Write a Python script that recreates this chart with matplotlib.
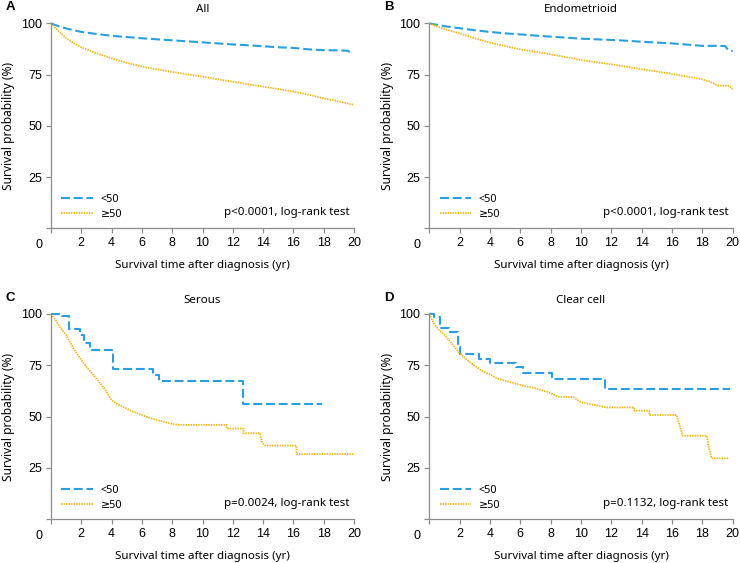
import matplotlib
matplotlib.use("Agg")
import matplotlib.pyplot as plt

plt.rcParams['font.family'] = ['Noto Sans', 'DejaVu Sans']

BLUE = "#2a9fe0"
ORANGE = "#f6b412"
GREY = "#8c8c8c"

# panel A: all
a_t_young = [0, 0.5, 1, 2, 3, 4, 5, 6, 7, 8, 9, 10, 11, 12, 13, 14, 15, 16, 17, 18, 19, 19.6, 19.8]
a_s_young = [100, 98.6, 97.5, 95.8, 94.8, 93.9, 93.3, 92.7, 92.2, 91.7, 91.2, 90.7, 90.2, 89.7, 89.3, 88.8, 88.3, 88.0, 87.3, 86.9, 86.8, 86.6, 85.5]
a_t_old = [0, 0.5, 1, 1.5, 2, 3, 4, 5, 6, 7, 8, 9, 10, 11, 12, 13, 14, 15, 16, 17, 18, 19, 20]
a_s_old = [100, 96.2, 92.7, 90.3, 88.3, 85.4, 82.9, 80.7, 78.9, 77.5, 76.3, 75.1, 74.0, 72.7, 71.5, 70.3, 69.1, 67.9, 66.7, 65.2, 63.4, 61.9, 60.2]

# panel B: endometrioid
b_t_young = [0, 1, 2, 3, 4, 5, 6, 7, 8, 9, 10, 11, 12, 13, 14, 15, 16, 17, 18, 19, 19.5, 19.7, 20]
b_s_young = [100, 98.6, 97.6, 96.6, 95.8, 95.1, 94.6, 94.0, 93.5, 93.0, 92.5, 92.2, 91.9, 91.5, 91.0, 90.6, 90.2, 89.6, 89.0, 89.0, 88.9, 87.0, 86.5]
b_t_old = [0, 1, 2, 3, 4, 5, 6, 7, 8, 9, 10, 11, 12, 13, 14, 15, 16, 17, 18, 18.5, 19, 19.8, 20]
b_s_old = [100, 97.2, 95.1, 92.7, 90.6, 88.9, 87.3, 86.1, 84.9, 83.5, 82.1, 81.0, 80.0, 78.8, 77.6, 76.5, 75.3, 74.0, 72.7, 71.5, 69.7, 69.4, 67.8]

# panel C: serous (blue is a step curve, orange has repeated times at the drops)
c_t_young = [0, 0.7, 1.2, 1.9, 2.2, 2.6, 4.0, 4.1, 6.7, 7.1, 12.7, 17.9]
c_s_young = [100, 99.0, 92.7, 89.8, 86.0, 82.3, 81.0, 73.4, 70.3, 67.5, 56.3, 56.3]
c_t_old = [0, 0.3, 0.6, 1, 1.5, 2, 2.5, 3, 3.5, 4, 4.5, 5, 5.5, 6, 6.5, 7, 7.5, 8, 8.5,
           11.6, 11.6, 12.7, 12.7, 13.8, 13.9, 14.1, 16.2, 16.2, 20]
c_s_old = [100, 97.0, 93.5, 89.8, 83.0, 77.6, 72.8, 68.5, 64.0, 58.0, 55.6, 53.9, 52.2, 50.8, 49.4, 48.4, 47.4, 46.4, 46.0,
           46.0, 44.2, 44.2, 41.9, 41.9, 38.0, 35.9, 35.9, 31.8, 31.8]

# panel D: clear cell
d_t_young = [0, 0.3, 0.7, 1.3, 1.9, 2.05, 3.3, 4.0, 5.7, 6.2, 8.1, 11.6, 19.8]
d_s_young = [100, 98.5, 93.0, 91.3, 84.0, 80.5, 78.2, 76.0, 74.0, 71.1, 68.2, 63.3, 63.3]
d_t_old = [0, 0.3, 0.6, 1, 1.5, 2, 2.5, 3, 3.5, 4, 4.5, 5, 6, 7, 7.8, 8.5, 9.5, 10, 11, 11.7,
           13.5, 13.5, 14.5, 14.5, 16.3, 16.45, 16.7, 18.3, 18.4, 18.6, 19.8]
d_s_old = [100, 95.5, 92.5, 89.8, 85.5, 80.8, 77.5, 74.7, 72.2, 70.6, 68.5, 67.5, 65.4, 63.8, 62.0, 59.7, 59.5, 57.0, 55.5, 54.5,
           54.5, 52.9, 52.9, 50.8, 50.8, 47.0, 40.7, 40.7, 36.0, 29.7, 29.7]

panels = [
    ("A", "All", a_t_young, a_s_young, a_t_old, a_s_old, "p<0.0001, log-rank test", False),
    ("B", "Endometrioid", b_t_young, b_s_young, b_t_old, b_s_old, "p<0.0001, log-rank test", False),
    ("C", "Serous", c_t_young, c_s_young, c_t_old, c_s_old, "p=0.0024, log-rank test", True),
    ("D", "Clear cell", d_t_young, d_s_young, d_t_old, d_s_old, "p=0.1132, log-rank test", True),
]

positions = [
    [0.0689, 0.5945, 0.4095, 0.3641],
    [0.5801, 0.5945, 0.4100, 0.3641],
    [0.0689, 0.0776, 0.4095, 0.3647],
    [0.5801, 0.0776, 0.4100, 0.3647],
]

fig = plt.figure(figsize=(7.4, 5.63), dpi=100)

for (letter, title, ty, sy, to, so, ptxt, steps), pos in zip(panels, positions):
    ax = fig.add_axes(pos)
    ds = "steps-post" if steps else "default"
    ax.plot(ty, sy, color=BLUE, lw=1.5, ls=(0, (4.3, 1.8)), drawstyle=ds, label="<50", clip_on=False)
    ax.plot(to, so, color=ORANGE, lw=1.3, ls=(0, (0.8, 0.6)), label="\u226550", clip_on=False)
    ax.set_xlim(0, 20)
    ax.set_ylim(0, 100)
    ax.set_xticks(range(0, 21, 2))
    ax.set_xticklabels([""] + [str(v) for v in range(2, 21, 2)])
    ax.set_yticks([0, 25, 50, 75, 100])
    ax.set_yticklabels(["", "25", "50", "75", "100"])
    for lab in ax.get_xticklabels() + ax.get_yticklabels():
        lab.set_family("Liberation Sans")
    for s in ["top", "right"]:
        ax.spines[s].set_visible(False)
    for s in ["left", "bottom"]:
        ax.spines[s].set_color(GREY)
        ax.spines[s].set_linewidth(0.9)
    ax.tick_params(direction="out", length=3.5, width=0.9, color=GREY, labelsize=9, pad=3)
    ax.text(-0.04, -0.083, "0", transform=ax.transAxes, ha="center", va="center", fontsize=9,
            family="Liberation Sans")
    ax.set_xlabel("Survival time after diagnosis (yr)", fontsize=8.3, labelpad=8)
    ax.set_ylabel("Survival probability (%)", fontsize=8.6, labelpad=4)
    ax.set_title(title, fontsize=8.3, pad=8)
    ax.text(-0.15, 1.078, letter, transform=ax.transAxes, fontsize=9.5, fontweight="bold",
            family="Liberation Sans", va="center")
    ax.text(0.986, 0.076, ptxt, transform=ax.transAxes, ha="right", va="center", fontsize=8.3)
    ax.legend(loc="lower left", bbox_to_anchor=(0.02, 0.02), frameon=False, fontsize=7.8,
              handlelength=2.9, handletextpad=0.7, labelspacing=0.4, borderaxespad=0)

fig.savefig("out.png", dpi=100)
